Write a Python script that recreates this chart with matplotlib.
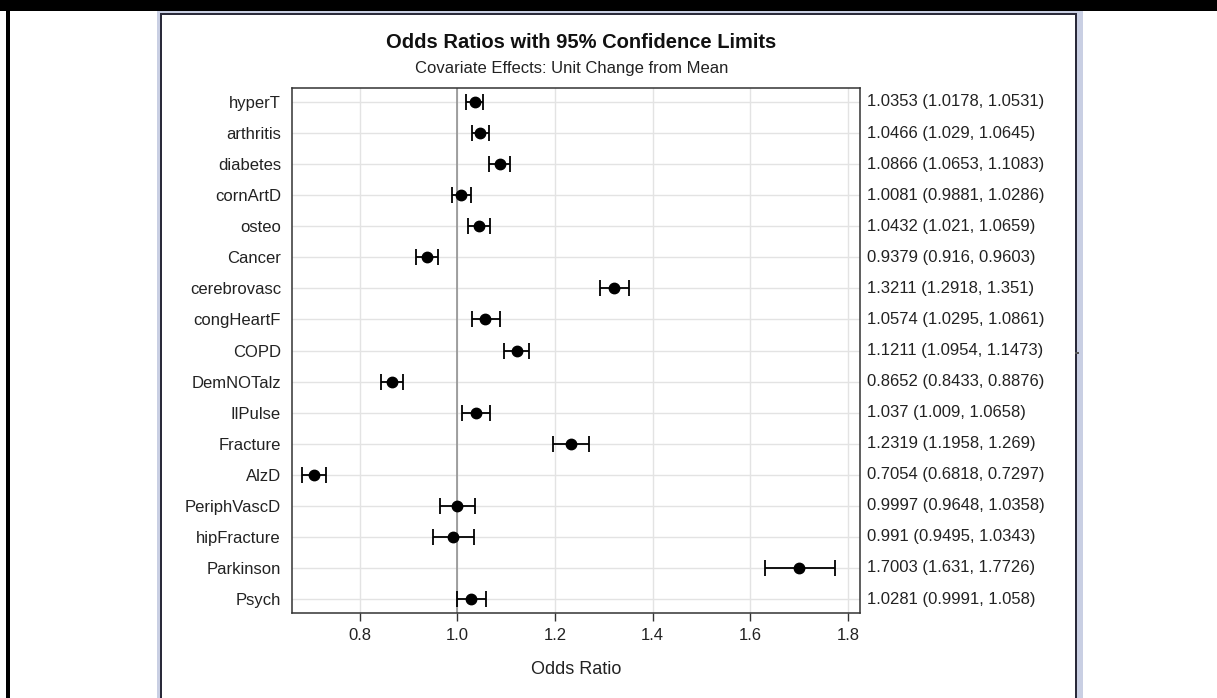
import matplotlib
matplotlib.use("Agg")
import matplotlib.pyplot as plt
from matplotlib.patches import Rectangle

plt.rcParams['font.family'] = ['Liberation Sans', 'DejaVu Sans']

# Odds ratio estimates with 95% Wald confidence limits
effects = ["hyperT", "arthritis", "diabetes", "cornArtD", "osteo", "Cancer",
           "cerebrovasc", "congHeartF", "COPD", "DemNOTalz", "IlPulse",
           "Fracture", "AlzD", "PeriphVascD", "hipFracture", "Parkinson", "Psych"]
odds_ratio = [1.0353, 1.0466, 1.0866, 1.0081, 1.0432, 0.9379, 1.3211, 1.0574,
              1.1211, 0.8652, 1.037, 1.2319, 0.7054, 0.9997, 0.991, 1.7003, 1.0281]
lower_cl = [1.0178, 1.029, 1.0653, 0.9881, 1.021, 0.916, 1.2918, 1.0295,
            1.0954, 0.8433, 1.009, 1.1958, 0.6818, 0.9648, 0.9495, 1.631, 0.9991]
upper_cl = [1.0531, 1.0645, 1.1083, 1.0286, 1.0659, 0.9603, 1.351, 1.0861,
            1.1473, 0.8876, 1.0658, 1.269, 0.7297, 1.0358, 1.0343, 1.7726, 1.058]
value_labels = ["1.0353 (1.0178, 1.0531)", "1.0466 (1.029, 1.0645)",
                "1.0866 (1.0653, 1.1083)", "1.0081 (0.9881, 1.0286)",
                "1.0432 (1.021, 1.0659)", "0.9379 (0.916, 0.9603)",
                "1.3211 (1.2918, 1.351)", "1.0574 (1.0295, 1.0861)",
                "1.1211 (1.0954, 1.1473)", "0.8652 (0.8433, 0.8876)",
                "1.037 (1.009, 1.0658)", "1.2319 (1.1958, 1.269)",
                "0.7054 (0.6818, 0.7297)", "0.9997 (0.9648, 1.0358)",
                "0.991 (0.9495, 1.0343)", "1.7003 (1.631, 1.7726)",
                "1.0281 (0.9991, 1.058)"]
x_ticks = [0.8, 1.0, 1.2, 1.4, 1.6, 1.8]

W, H = 1217, 698
fig = plt.figure(figsize=(W / 100, H / 100), dpi=100)
fig.patch.set_facecolor("white")

def px(x0, y0, w, h):
    """Pixel box (top-left origin) -> figure fraction rectangle."""
    return [x0 / W, 1 - (y0 + h) / H, w / W, h / H]

# Surrounding frame: black strips and the bordered output panel
bg = fig.add_axes([0, 0, 1, 1])
bg.set_xlim(0, W)
bg.set_ylim(H, 0)
bg.axis("off")
bg.add_patch(Rectangle((0, 0), W, 11, color="black", lw=0))
bg.add_patch(Rectangle((6, 0), 4, H, color="black", lw=0))
bg.add_patch(Rectangle((157, 11), 926, H, facecolor="#c9cfe3", lw=0))
bg.add_patch(Rectangle((160, 13), 917, H, facecolor="#2a2a3a", lw=0))
bg.add_patch(Rectangle((162, 15), 913, H, facecolor="white", lw=0))
bg.add_patch(Rectangle((1075, 352), 4, 2, facecolor="#555555", lw=0))

ax = fig.add_axes(px(292, 88, 568, 525))
ax.set_facecolor("white")
ypos = list(range(len(effects)))

ax.set_axisbelow(True)
ax.grid(True, color="#e3e3e3", lw=1.0)
ax.axvline(1.0, color="#8a8a8a", lw=1.1, zorder=1)

xerr = [[o - l for o, l in zip(odds_ratio, lower_cl)],
        [u - o for o, u in zip(odds_ratio, upper_cl)]]
ax.errorbar(odds_ratio, ypos, xerr=xerr, fmt="o", color="black", ms=7.5,
            ecolor="black", elinewidth=1.3, capsize=5.5, capthick=1.3, zorder=3)

ax.set_xlim(0.661, 1.8246)
ax.set_ylim(len(effects) - 1 + 0.45, -0.45)
ax.set_xticks(x_ticks)
ax.set_xticklabels([f"{t:.1f}" for t in x_ticks])
ax.set_yticks(ypos)
ax.set_yticklabels(effects)
ax.tick_params(axis="x", direction="out", length=6, width=1, color="#333333",
               labelsize=12, labelcolor="#222222", pad=5)
ax.tick_params(axis="y", length=0, labelsize=12, labelcolor="#222222", pad=8)
for s in ax.spines.values():
    s.set_color("#333333")
    s.set_linewidth(1.1)

for y, lab in zip(ypos, value_labels):
    ax.annotate(lab, xy=(1, y), xycoords=("axes fraction", "data"),
                xytext=(5, 0), textcoords="offset points",
                ha="left", va="center", fontsize=12, color="#222222")

fig.text(581 / W, 1 - 42 / H, "Odds Ratios with 95% Confidence Limits",
         ha="center", va="center", fontsize=14.5, fontweight="bold", color="#111111")
fig.text(572 / W, 1 - 68 / H, "Covariate Effects: Unit Change from Mean",
         ha="center", va="center", fontsize=12, color="#222222")
fig.text(576 / W, 1 - 669 / H, "Odds Ratio",
         ha="center", va="center", fontsize=13, color="#222222")

fig.savefig("out.png", dpi=100)
